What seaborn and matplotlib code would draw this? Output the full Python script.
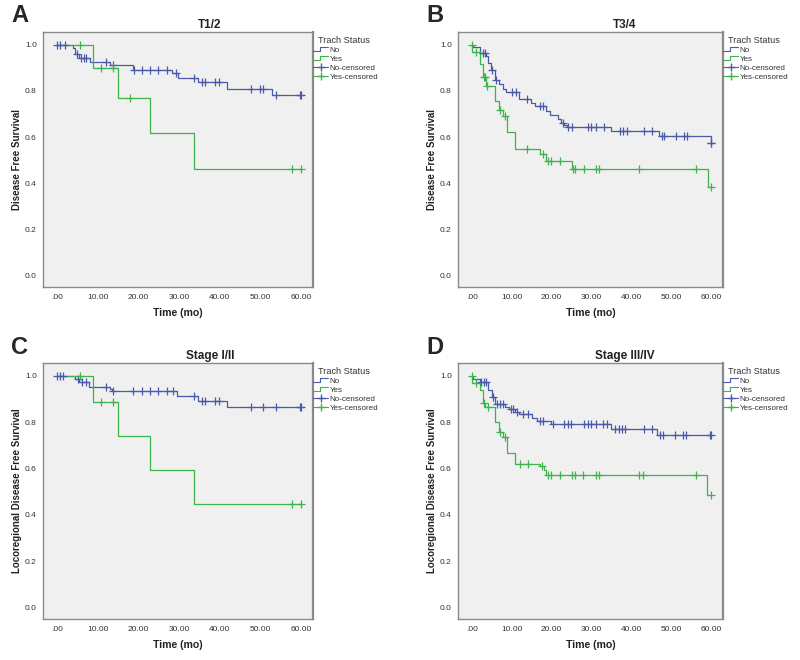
import numpy as np
import pandas as pd
import matplotlib
matplotlib.use("Agg")
import matplotlib.pyplot as plt
import seaborn as sns
from matplotlib.lines import Line2D
from matplotlib.legend_handler import HandlerBase

# Kaplan-Meier step data: event times, survival level after
# each event, and censoring times, for each panel and trach group
a_no_t = [3.8, 4.5, 5.3, 8.0, 12.9, 18.6, 28.2, 29.8, 34.6, 41.7, 53.0]
a_no_s = [0.987, 0.961, 0.942, 0.926, 0.910, 0.890, 0.876, 0.857, 0.838, 0.810, 0.780]
a_no_c = [0, 0.8, 1.8, 4.8, 5.9, 6.6, 7.2, 12.0, 13.7, 19.0, 20.8, 22.8, 24.9, 27.0,
          29.3, 33.7, 35.6, 36.5, 38.9, 39.8, 47.8, 49.9, 50.7, 53.8, 59.7, 60.0]
a_yes_t = [8.8, 15.0, 22.8, 33.8]
a_yes_s = [0.900, 0.771, 0.618, 0.463]
a_yes_c = [5.7, 10.9, 13.7, 17.9, 57.9, 60.0]

b_no_t = [0.3, 1.9, 3.6, 4.1, 4.9, 5.7, 6.7, 7.7, 8.5, 11.7, 14.7, 15.8, 18.7, 19.7,
          21.6, 22.4, 23.2, 23.8, 34.9, 46.9, 60.0]
b_no_s = [0.990, 0.965, 0.951, 0.922, 0.889, 0.846, 0.829, 0.810, 0.797, 0.766, 0.749,
          0.735, 0.714, 0.697, 0.678, 0.662, 0.652, 0.644, 0.627, 0.605, 0.576]
b_no_c = [2.7, 3.2, 5.1, 6.0, 10.0, 11.0, 13.9, 17.0, 17.8, 22.8, 24.1, 25.1, 29.0, 29.8,
          31.1, 33.1, 37.2, 38.0, 38.8, 43.2, 45.2, 47.7, 48.1, 51.3, 53.1, 53.9, 60.0, 60.0]
b_yes_t = [0.1, 2.0, 2.7, 3.6, 5.8, 6.7, 7.7, 8.8, 10.7, 17.0, 18.7, 25.1, 59.2]
b_yes_s = [0.970, 0.918, 0.858, 0.820, 0.757, 0.716, 0.690, 0.622, 0.550, 0.525, 0.496,
           0.460, 0.385]
b_yes_c = [0.0, 0.9, 3.0, 3.4, 3.9, 7.1, 8.4, 13.8, 17.8, 19.1, 19.9, 22.0, 25.4, 25.9,
           28.0, 31.1, 31.9, 42.0, 56.1, 60.0]

c_no_t = [4.5, 5.3, 7.8, 12.9, 13.6, 29.6, 34.6, 41.7]
c_no_s = [0.986, 0.971, 0.952, 0.943, 0.934, 0.913, 0.889, 0.865]
c_no_c = [0, 0.6, 1.4, 5.1, 6.2, 7.0, 12.0, 13.8, 18.7, 20.8, 22.8, 24.9, 27.0, 28.6,
          33.7, 35.6, 36.5, 38.9, 39.8, 47.8, 50.7, 54.0, 59.7, 60.0]
c_yes_t = [8.8, 15.0, 22.9, 33.8]
c_yes_s = [0.888, 0.741, 0.593, 0.445]
c_yes_c = [5.7, 10.9, 13.8, 57.9, 60.0]

d_no_t = [0.3, 1.9, 4.1, 5.1, 5.9, 8.4, 9.2, 10.8, 11.8, 15.0, 16.2, 19.9, 34.8, 46.5]
d_no_s = [0.988, 0.971, 0.939, 0.908, 0.877, 0.867, 0.855, 0.843, 0.833, 0.819, 0.804,
          0.793, 0.771, 0.745]
d_no_c = [2.2, 3.0, 3.6, 5.3, 6.3, 7.1, 7.9, 9.8, 10.4, 11.3, 12.9, 14.1, 17.0, 17.9,
          20.3, 23.0, 24.0, 24.9, 28.0, 29.0, 29.9, 31.1, 33.0, 33.8, 36.0, 36.9, 37.7,
          38.5, 43.1, 45.1, 47.1, 48.0, 51.0, 53.0, 53.8, 59.8, 60.0]
d_yes_t = [0.1, 1.9, 2.7, 3.4, 5.9, 6.9, 7.8, 8.8, 10.8, 17.0, 18.1, 18.7, 59.0]
d_yes_s = [0.968, 0.939, 0.884, 0.864, 0.800, 0.758, 0.736, 0.667, 0.620, 0.610, 0.594,
           0.570, 0.486]
d_yes_c = [0.0, 0.9, 3.0, 4.1, 7.0, 8.4, 12.1, 14.0, 17.7, 19.0, 19.9, 22.0, 25.0, 25.8,
           27.9, 31.1, 31.9, 41.9, 43.0, 56.1, 60.0]

panel_letters = ["A", "B", "C", "D"]
panel_titles = ["T1/2", "T3/4", "Stage I/II", "Stage III/IV"]
y_labels = ["Disease Free Survival", "Disease Free Survival",
            "Locoregional Disease Free Survival", "Locoregional Disease Free Survival"]
x_ticks = [0, 10, 20, 30, 40, 50, 60]
x_tick_labels = [".00", "10.00", "20.00", "30.00", "40.00", "50.00", "60.00"]
y_ticks = [0.0, 0.2, 0.4, 0.6, 0.8, 1.0]
legend_labels = ["No", "Yes", "No-censored", "Yes-censored"]

NO_COLOR = "#4a5aa8"
YES_COLOR = "#3cb44b"

sns.set_style("white")
plt.rcParams["font.family"] = ["Liberation Sans", "DejaVu Sans"]


class StepHandler(HandlerBase):
    """Draw the little step glyph SPSS uses for the curve entries."""
    def create_artists(self, legend, orig_handle, xdescent, ydescent, width, height,
                       fontsize, trans):
        x0, y0 = -xdescent, -ydescent
        xs = [x0, x0 + 0.45 * width, x0 + 0.45 * width, x0 + width]
        ys = [y0 + 0.1 * height, y0 + 0.1 * height, y0 + 0.9 * height, y0 + 0.9 * height]
        return [Line2D(xs, ys, color=orig_handle.get_color(), lw=0.8, transform=trans)]


def km_frame(event_t, surv, cens_t):
    end = max(max(cens_t), max(event_t))
    t = np.r_[0.0, event_t, end]
    s = np.r_[1.0, surv, surv[-1]]
    return pd.DataFrame({"time": t, "surv": s})


def censor_levels(event_t, surv, cens_t):
    levels = np.r_[1.0, surv]
    idx = np.searchsorted(event_t, cens_t, side="right")
    return levels[idx]


def draw_panel(ax, groups):
    ax.set_facecolor("#f0f0f0")
    for event_t, surv, cens_t, color in groups:
        df = km_frame(event_t, surv, cens_t)
        sns.lineplot(data=df, x="time", y="surv", drawstyle="steps-post", color=color,
                     lw=0.9, estimator=None, sort=False, ax=ax)
        sns.scatterplot(x=cens_t, y=censor_levels(event_t, surv, cens_t), marker="+",
                        color=color, s=30, linewidth=0.9, ax=ax, zorder=3)
    ax.set_xlim(-3.5, 63.0)
    ax.set_ylim(-0.05, 1.055)
    ax.set_xticks(x_ticks)
    ax.set_xticklabels(x_tick_labels)
    ax.set_yticks(y_ticks)
    ax.set_yticklabels([f"{v:.1f}" for v in y_ticks])
    ax.tick_params(axis="both", length=3, width=0.8, color="#555555", labelsize=6,
                   labelcolor="#333333", pad=1.5, direction="out")
    ax.tick_params(axis="x", length=0, pad=5)
    for side, sp in ax.spines.items():
        sp.set_color("#8a8a8a")
        sp.set_linewidth(1.0)
    ax.spines["right"].set_linewidth(1.6)
    ax.set_xlabel("")
    ax.set_ylabel("")
    handles = [Line2D([], [], color=NO_COLOR), Line2D([], [], color=YES_COLOR),
               Line2D([], [], color=NO_COLOR, marker="+", markersize=5.5, lw=0.8),
               Line2D([], [], color=YES_COLOR, marker="+", markersize=5.5, lw=0.8)]
    leg = ax.legend(handles, legend_labels, loc="upper left", bbox_to_anchor=(1.0, 0.985),
                    frameon=False, fontsize=5.8, title="Trach Status",
                    title_fontsize=6.6, handlelength=1.9, handletextpad=0.15,
                    labelspacing=0.18, borderpad=0, borderaxespad=0, numpoints=1,
                    alignment="left",
                    handler_map={handles[0]: StepHandler(), handles[1]: StepHandler()})
    leg.get_title().set_color("#333333")
    leg.get_title().set_x(5)
    for txt in leg.get_texts():
        txt.set_color("#333333")


W, H = 800, 660
fig = plt.figure(figsize=(8, 6.6), dpi=100)

# axes boxes in pixels: left, top, right, bottom
boxes = [(43, 32, 313, 287), (458, 32, 723, 287), (43, 363, 313, 619), (458, 363, 723, 619)]
panel_data = [
    [(a_no_t, a_no_s, a_no_c, NO_COLOR), (a_yes_t, a_yes_s, a_yes_c, YES_COLOR)],
    [(b_no_t, b_no_s, b_no_c, NO_COLOR), (b_yes_t, b_yes_s, b_yes_c, YES_COLOR)],
    [(c_no_t, c_no_s, c_no_c, NO_COLOR), (c_yes_t, c_yes_s, c_yes_c, YES_COLOR)],
    [(d_no_t, d_no_s, d_no_c, NO_COLOR), (d_yes_t, d_yes_s, d_yes_c, YES_COLOR)],
]
letter_pos = [(20, 16), (435, 16), (20, 347), (435, 347)]
title_x = [210, 625, 210, 625]
ylabel_x = [17, 432, 17, 432]

for i, (l, t, r, b) in enumerate(boxes):
    ax = fig.add_axes([l / W, 1 - b / H, (r - l) / W, (b - t) / H])
    draw_panel(ax, panel_data[i])
    fig.text(letter_pos[i][0] / W, 1 - letter_pos[i][1] / H, panel_letters[i],
             fontsize=17, fontweight="bold", ha="center", va="center")
    fig.text(title_x[i] / W, 1 - (t - 7) / H, panel_titles[i], fontsize=8.5,
             fontweight="bold", ha="center", va="center", color="#222222")
    fig.text(ylabel_x[i] / W, 1 - ((t + b) / 2) / H, y_labels[i], fontsize=7.0,
             fontweight="bold", rotation=90, ha="center", va="center", color="#222222")
    fig.text(((l + r) / 2) / W, 1 - (b + 26) / H, "Time (mo)", fontsize=7.6,
             fontweight="bold", ha="center", va="center", color="#222222")

fig.savefig("out.png", dpi=100, facecolor="white")
